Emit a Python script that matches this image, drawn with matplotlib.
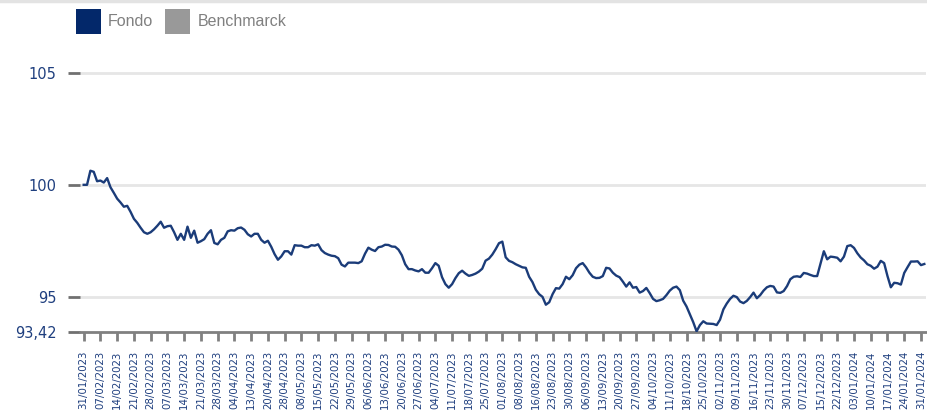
import matplotlib
matplotlib.use("Agg")
import matplotlib.pyplot as plt
from matplotlib.patches import Rectangle
from matplotlib.lines import Line2D

# ---- data ----
fondo = [
    100.00, 100.00, 100.63, 100.58, 100.16, 100.19, 100.10, 100.30, 99.89, 99.64,
    99.38, 99.21, 99.02, 99.06, 98.79, 98.48, 98.30, 98.08, 97.88, 97.81,
    97.88, 98.01, 98.17, 98.35, 98.08, 98.15, 98.17, 97.88, 97.54, 97.81,
    97.54, 98.13, 97.63, 97.95, 97.41, 97.48, 97.57, 97.81, 97.97, 97.40,
    97.34, 97.54, 97.63, 97.92, 97.97, 97.95, 98.06, 98.09, 97.99, 97.79,
    97.69, 97.81, 97.81, 97.54, 97.41, 97.50, 97.23, 96.90, 96.65, 96.80,
    97.03, 97.03, 96.88, 97.30, 97.28, 97.28, 97.21, 97.21, 97.30, 97.28,
    97.34, 97.08, 96.95, 96.88, 96.83, 96.81, 96.72, 96.43, 96.35, 96.52,
    96.52, 96.52, 96.50, 96.58, 96.92, 97.19, 97.10, 97.04, 97.21, 97.24,
    97.32, 97.31, 97.24, 97.23, 97.10, 96.85, 96.45, 96.23, 96.23, 96.17,
    96.13, 96.23, 96.07, 96.07, 96.27, 96.50, 96.38, 95.87, 95.56, 95.40,
    95.56, 95.83, 96.05, 96.16, 96.03, 95.93, 95.97, 96.03, 96.12, 96.25,
    96.61, 96.70, 96.88, 97.12, 97.39, 97.46, 96.76, 96.60, 96.54, 96.45,
    96.38, 96.31, 96.29, 95.89, 95.65, 95.31, 95.11, 94.99, 94.64, 94.75,
    95.11, 95.38, 95.36, 95.56, 95.89, 95.78, 95.96, 96.27, 96.43, 96.50,
    96.31, 96.07, 95.89, 95.83, 95.84, 95.92, 96.29, 96.26, 96.07, 95.94,
    95.87, 95.67, 95.45, 95.64, 95.40, 95.43, 95.18, 95.25, 95.39, 95.16,
    94.90, 94.80, 94.84, 94.90, 95.07, 95.27, 95.40, 95.45, 95.29, 94.82,
    94.56, 94.21, 93.86, 93.45, 93.73, 93.90, 93.80, 93.79, 93.78, 93.73,
    93.97, 94.43, 94.69, 94.90, 95.04, 94.98, 94.78, 94.71, 94.81, 94.98,
    95.18, 94.93, 95.07, 95.27, 95.42, 95.48, 95.45, 95.19, 95.17, 95.25,
    95.47, 95.78, 95.89, 95.91, 95.88, 96.06, 96.03, 95.97, 95.92, 95.92,
    96.47, 97.03, 96.67, 96.79, 96.77, 96.74, 96.58, 96.79, 97.26, 97.30,
    97.18, 96.94, 96.75, 96.62, 96.45, 96.38, 96.25, 96.34, 96.60, 96.50,
    95.92, 95.42, 95.62, 95.60, 95.54, 96.06, 96.32, 96.57, 96.57, 96.58,
    96.41, 96.46,
]

tick_labels = [
    "31/01/2023", "07/02/2023", "14/02/2023", "21/02/2023", "28/02/2023",
    "07/03/2023", "14/03/2023", "21/03/2023", "28/03/2023", "04/04/2023",
    "13/04/2023", "20/04/2023", "28/04/2023", "08/05/2023", "15/05/2023",
    "22/05/2023", "29/05/2023", "06/06/2023", "13/06/2023", "20/06/2023",
    "27/06/2023", "04/07/2023", "11/07/2023", "18/07/2023", "25/07/2023",
    "01/08/2023", "08/08/2023", "16/08/2023", "23/08/2023", "30/08/2023",
    "06/09/2023", "13/09/2023", "20/09/2023", "27/09/2023", "04/10/2023",
    "11/10/2023", "18/10/2023", "25/10/2023", "02/11/2023", "09/11/2023",
    "16/11/2023", "23/11/2023", "30/11/2023", "07/12/2023", "15/12/2023",
    "22/12/2023", "03/01/2024", "10/01/2024", "17/01/2024", "24/01/2024",
    "31/01/2024",
]
tick_step = 5  # trading days between date labels

y_ticks = [93.42, 95, 100, 105]
y_tick_labels = ["93,42", "95", "100", "105"]

series_names = ["Fondo", "Benchmarck"]
series_colors = ["#03286a", "#999999"]

# ---- figure ----
W, H = 927, 412
fig = plt.figure(figsize=(W / 100, H / 100), dpi=100)
ax = fig.add_axes([80 / W, 80 / H, (926 - 80) / W, (332 - 39.4) / H])

navy_line = "#1b3c79"
label_col = "#1f3f7f"

x = list(range(len(fondo)))
ax.plot(x, fondo, color=navy_line, lw=1.7, solid_joinstyle="round", zorder=3)

ax.set_xlim(-1.1, 251.5)
ax.set_ylim(93.42, 106.5)

# grid lines
for v in y_ticks[1:]:
    ax.axhline(v, color="#e6e6e6", lw=2, zorder=1)

ax.set_yticks(y_ticks)
ax.set_yticklabels(y_tick_labels)
ax.tick_params(axis="y", length=8.5, width=2, color="#707070", pad=8.5,
               labelsize=10.5, labelcolor=label_col)

xt = [i * tick_step for i in range(len(tick_labels))]
ax.set_xticks(xt)
ax.set_xticklabels(tick_labels, rotation=90, fontsize=7.4, color=label_col)
ax.tick_params(axis="x", length=6.5, width=2, color="#808080", pad=7)

for s in ["top", "right", "left"]:
    ax.spines[s].set_visible(False)
ax.spines["bottom"].set_color("#808080")
ax.spines["bottom"].set_linewidth(2)

# top border line
fig.add_artist(Line2D([0, 1], [1 - 1 / H, 1 - 1 / H], transform=fig.transFigure,
                      color="#e3e3e3", lw=2.5))

# legend
leg_x = [76, 165]
txt_x = [108, 198]
for name, col, lx, tx in zip(series_names, series_colors, leg_x, txt_x):
    fig.add_artist(Rectangle((lx / W, 1 - 34 / H), 25 / W, 25 / H,
                             transform=fig.transFigure, color=col, lw=0))
    fig.text(tx / W, 1 - 22 / H, name, fontsize=11.5, color="#808080",
             family=["Liberation Sans", "DejaVu Sans"], va="center", ha="left")

fig.savefig("out.png", dpi=100)
